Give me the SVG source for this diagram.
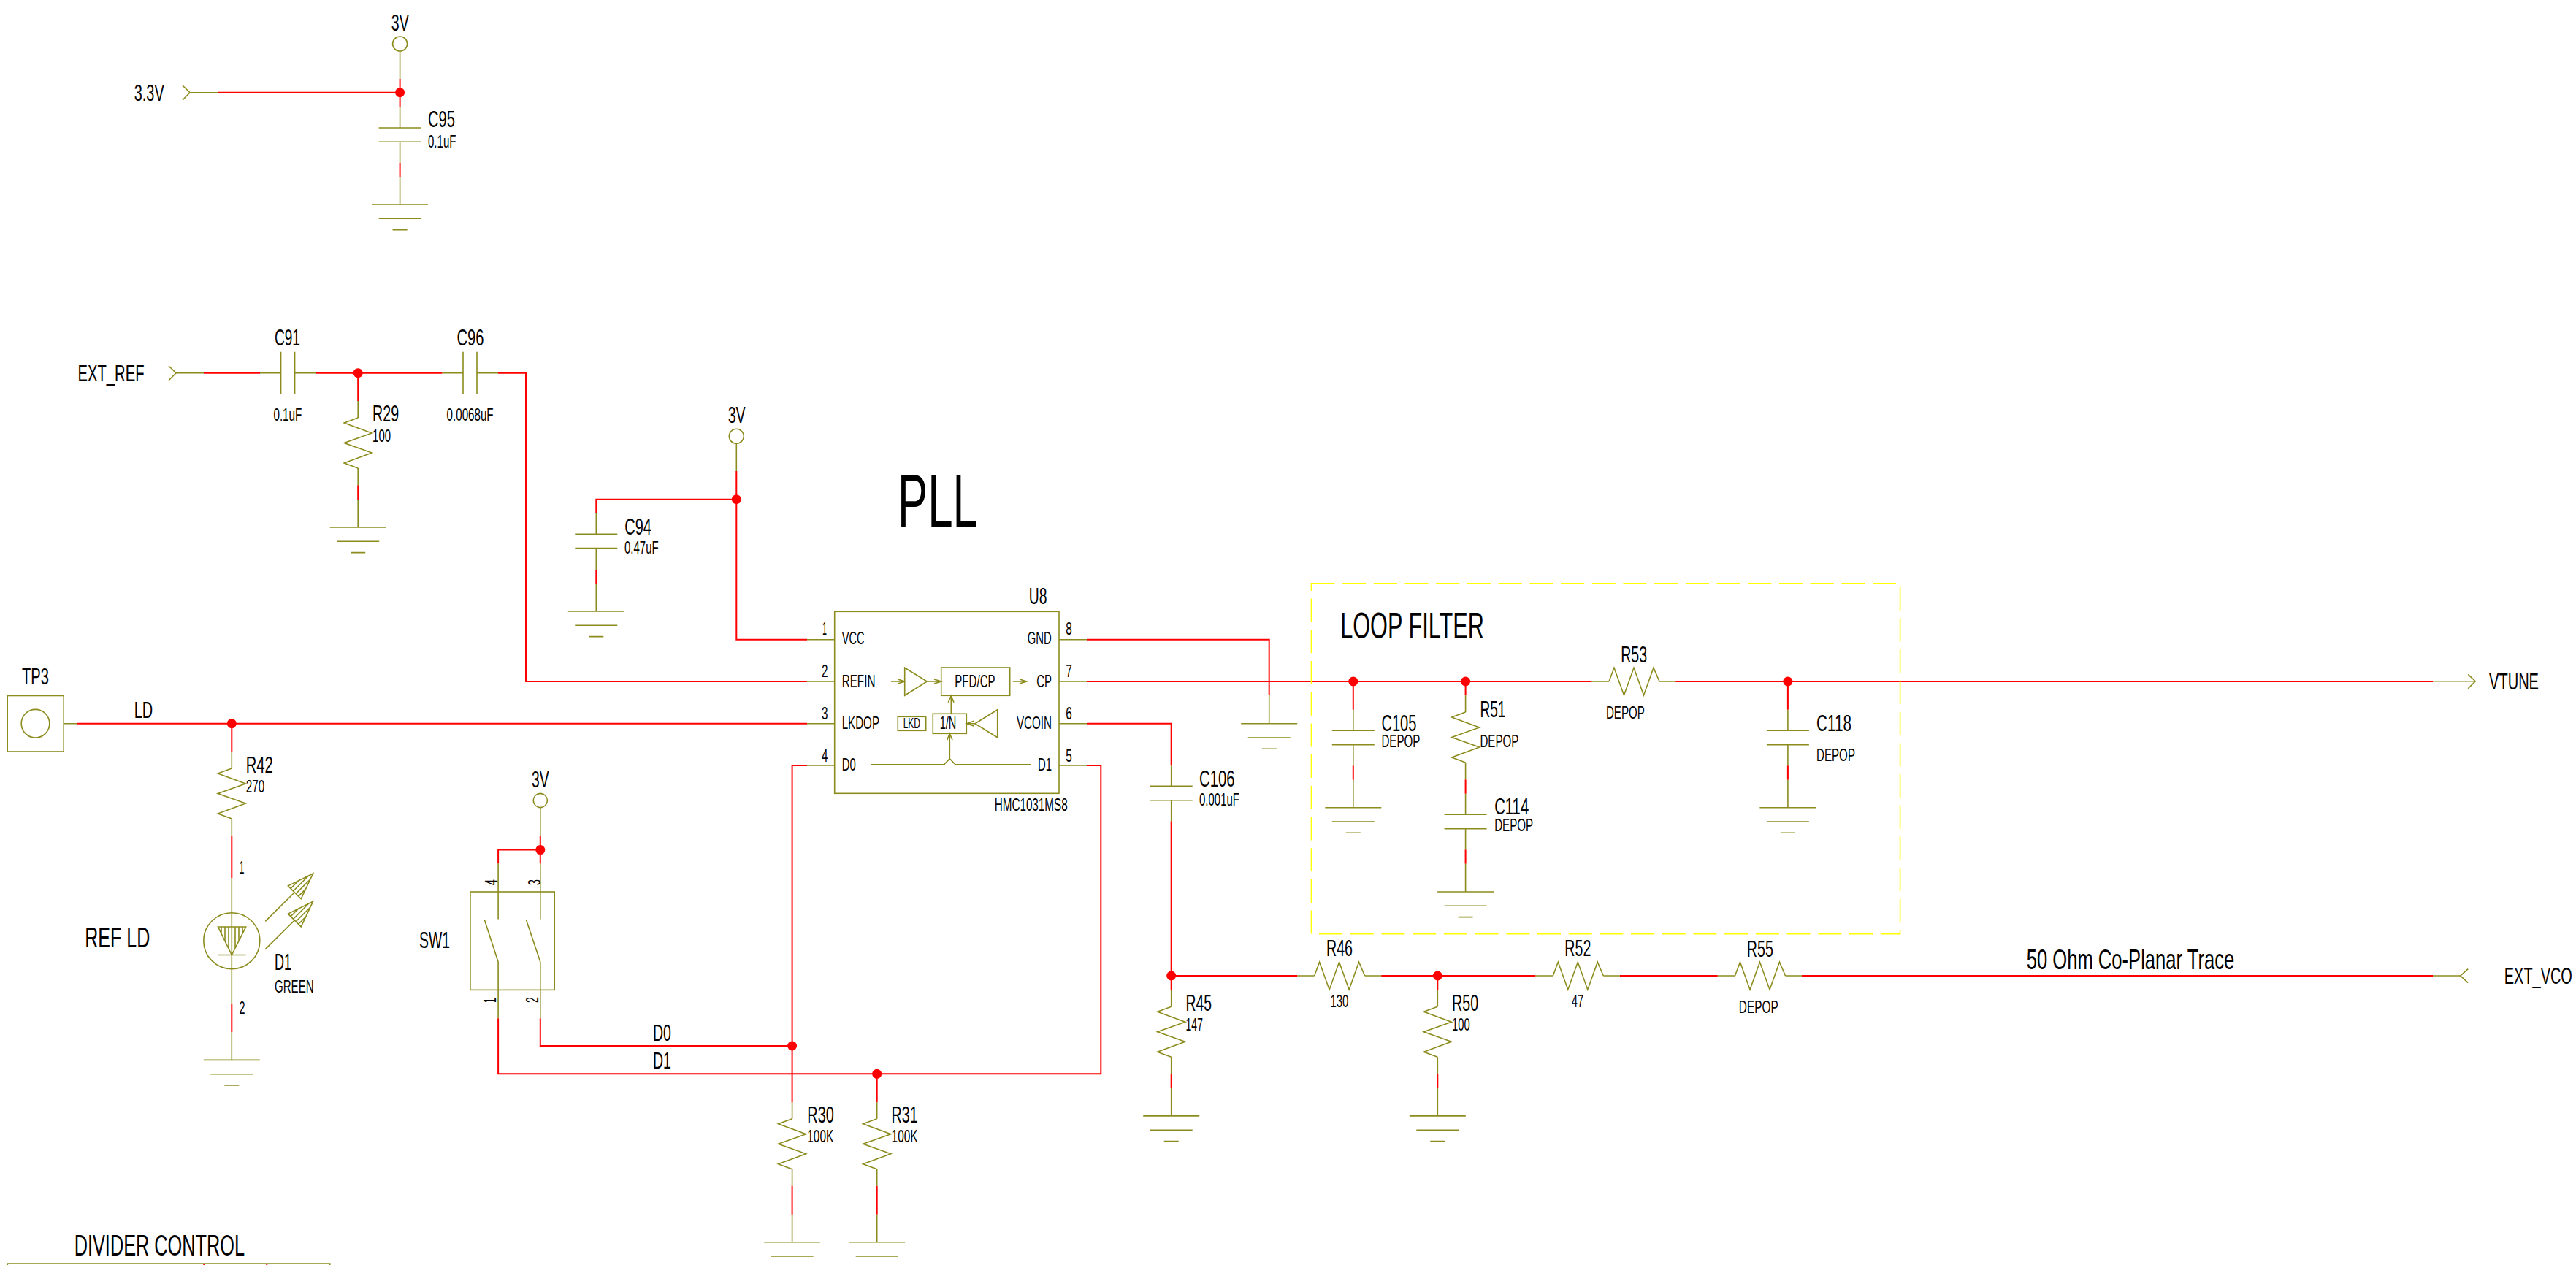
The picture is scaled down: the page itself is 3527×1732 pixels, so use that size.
<svg xmlns="http://www.w3.org/2000/svg" xmlns:xlink="http://www.w3.org/1999/xlink" width="3527" height="1732" viewBox="0 0 3527 1732">
<style>
text{font-family:"Liberation Sans",Arial,sans-serif;fill:#000;text-anchor:start}
.b{font-size:32px}
.s{font-size:24px}
.o,.o path,.o line,.o rect,.o circle,.ol{fill:none;stroke:#8c8c1e;stroke-width:1.6}
.r{fill:none;stroke:#f00;stroke-width:2}
.j{fill:#f00;stroke:none}
.y{fill:none;stroke:#ff0;stroke-width:1.6;stroke-dasharray:32 10.7}
</style>
<defs>
<path id="rv" class="ol" d="M0 0L-19 7L19 21L-19 34.5L19 48L-19 62L0 69"/>
<path id="rh" class="ol" d="M0 0L7 -18.7L20.5 19L34 -18.7L47.5 19L61 -18.7L69 0"/>
<path id="gnd" class="ol" d="M-38.5 0H38.5M-29 19.3H29M-10 34.6H10"/>
<path id="cv" class="ol" d="M-29 0H29M-29 19.3H29"/>
<path id="ch" class="ol" d="M0 -29V29M19 -29V29"/>
<g id="ledarrow" class="o"><path d="M363.3 1261.4L403.3 1221.8M428.6 1196L394.4 1212.9L412.2 1230.7ZM398 1216.5L408.6 1205.9M401.5 1220L422.5 1199M405.1 1223.6L424.9 1203.8M408.6 1227.1L418.6 1217.1"/></g>
</defs>

<g id="connectors">
<path class="r" d="M298 126.7H547.6M547.6 108V146M547.6 223V242
M279 510.7H356M432.6 510.7H605.5M682 510.7H720V933H1105M490.2 510.7V549M490.2 664.3V684
M1105 875.7H1008.3V645M1008.3 683.7H816.3V702.7M816.3 780V799
M106 990.7H1105M317.3 990.7V1029M317.3 1144V1202M317.3 1374.3V1413
M739.8 1144V1182.5M739.8 1163.6H682.1V1182.5
M739.8 1394.3V1432H1084.6M1105 1048H1084.6V1509.3M682.1 1394.3V1470.3H1507.3V1048H1488M1200.7 1470.3V1509.3
M1084.6 1623.7V1662.7M1200.7 1623.7V1662.7
M1488 875.7H1737.7V951.7M1488 933H2179.6M2294.2 933H3331.2
M1852.8 933V971.7M1852.8 1048.3V1067.7M2006.6 933V952.3M2006.6 1067.3V1086.7M2006.6 1163.3V1182.7M2447.9 933V971.7M2447.9 1048.3V1067.7
M1488 990.7H1603.7V1048.6M1603.7 1124.3V1355.7M1603.7 1470.7V1489.6M1603.7 1336H1776.3M1891.2 1336H2102.5M1968.3 1336V1355.7M1968.3 1470.7V1489.6M2217.9 1336H2351.8M2467 1336H3331.2"/>
<path class="ol" d="M260 126.7H298M547.6 70V108M547.6 146V175M547.6 194.3V223M547.6 242V280
M241 510.7H279M356 510.7H384.6M403.6 510.7H432.6M605.5 510.7H634M653 510.7H682M490.2 549V572M490.2 641V664.3M490.2 684V722
M1008.3 607V645M816.3 702.7V731.3M816.3 750.7V780M816.3 799V837
M87 990.7H106M317.3 1029V1052M317.3 1121V1144M317.3 1202V1374.3M317.3 1413V1451.4
M739.8 1105.5V1144M739.8 1182.5V1258.6M682.1 1182.5V1258.6M682.1 1317V1394.3M739.8 1317V1394.3
M1084.6 1509.3V1531.7M1084.6 1600.7V1623.7M1084.6 1662.7V1700.7M1200.7 1509.3V1531.7M1200.7 1600.7V1623.7M1200.7 1662.7V1700.7
M1737.7 951.7V990.7M2179.6 933H2203M2272 933H2294.2M3331.2 932.7H3389M1852.8 971.7V1000.3M1852.8 1019.6V1048.3M1852.8 1067.7V1105.7
M2006.6 952.3V975M2006.6 1044V1067.3M2006.6 1086.7V1115.3M2006.6 1134.6V1163.3M2006.6 1182.7V1221
M2447.9 971.7V1000.3M2447.9 1019.6V1048.3M2447.9 1067.7V1105.7
M1603.7 1048.6V1076.4M1603.7 1095.7V1124.3M1603.7 1355.7V1378.2M1603.7 1447.2V1470.7M1603.7 1489.6V1527.9
M1968.3 1355.7V1378.2M1968.3 1447.2V1470.7M1968.3 1489.6V1527.9
M1776.3 1336H1799.6M1868.6 1336H1891.2M2102.5 1336H2126.3M2195.3 1336H2217.9M2351.8 1336H2375.5M2444.5 1336H2467M3331.2 1336H3368.8"/>
<circle class="j" cx="547.6" cy="126.7" r="6.5"/>
<circle class="j" cx="490.2" cy="510.7" r="6.5"/>
<circle class="j" cx="1008.3" cy="683.7" r="6.5"/>
<circle class="j" cx="317.3" cy="990.7" r="6.5"/>
<circle class="j" cx="739.8" cy="1163.6" r="6.5"/>
<circle class="j" cx="1084.6" cy="1432" r="6.5"/>
<circle class="j" cx="1200.7" cy="1470.3" r="6.5"/>
<circle class="j" cx="1852.8" cy="933" r="6.5"/>
<circle class="j" cx="2006.6" cy="933" r="6.5"/>
<circle class="j" cx="2447.9" cy="933" r="6.5"/>
<circle class="j" cx="1603.7" cy="1336" r="6.5"/>
<circle class="j" cx="1968.3" cy="1336" r="6.5"/>
</g>

<g id="loop-filter">
<rect class="y" x="1795.5" y="798.7" width="806.1" height="480"/>
<text x="1835.2" y="874" font-size="50" textLength="196.6" lengthAdjust="spacingAndGlyphs">LOOP FILTER</text>
</g>
<text id="title-pll" x="1229" y="722" font-size="103" textLength="110" lengthAdjust="spacingAndGlyphs">PLL</text>

<g id="port-3v3"><path class="ol" d="M250 117L260 126.7L250 137"/><text class="b" x="183.7" y="138" textLength="41" lengthAdjust="spacingAndGlyphs">3.3V</text></g>
<g id="pwr-3v-a"><circle class="ol" cx="547.6" cy="60" r="10"/><text class="b" x="535.8" y="42.3" textLength="24" lengthAdjust="spacingAndGlyphs">3V</text></g>
<g id="C95"><use href="#cv" x="547.6" y="175"/><text class="b" x="586" y="174" textLength="37" lengthAdjust="spacingAndGlyphs">C95</text><text class="s" x="586" y="201.7" textLength="38.5" lengthAdjust="spacingAndGlyphs">0.1uF</text></g>
<g id="gnd-1"><use href="#gnd" x="547.6" y="280"/></g>

<g id="port-ext-ref"><path class="ol" d="M231 501L241 510.7L231 520.7"/><text class="b" x="106.5" y="521.7" textLength="91" lengthAdjust="spacingAndGlyphs">EXT_REF</text></g>
<g id="C91"><use href="#ch" x="384.6" y="510.7"/><text class="b" x="375.9" y="472.7" textLength="35" lengthAdjust="spacingAndGlyphs">C91</text><text class="s" x="374.4" y="576" textLength="39" lengthAdjust="spacingAndGlyphs">0.1uF</text></g>
<g id="C96"><use href="#ch" x="634" y="510.7"/><text class="b" x="625.4" y="472.7" textLength="37" lengthAdjust="spacingAndGlyphs">C96</text><text class="s" x="611.6" y="576" textLength="64" lengthAdjust="spacingAndGlyphs">0.0068uF</text></g>
<g id="R29"><use href="#rv" x="490.2" y="572"/><text class="b" x="510.1" y="577.3" textLength="36" lengthAdjust="spacingAndGlyphs">R29</text><text class="s" x="510.1" y="605" textLength="25" lengthAdjust="spacingAndGlyphs">100</text></g>
<g id="gnd-2"><use href="#gnd" x="490.2" y="722"/></g>

<g id="pwr-3v-b"><circle class="ol" cx="1008.3" cy="597.3" r="10"/><text class="b" x="996.7" y="579.3" textLength="24" lengthAdjust="spacingAndGlyphs">3V</text></g>
<g id="C94"><use href="#cv" x="816.3" y="731.3"/><text class="b" x="855.3" y="731.7" textLength="36.7" lengthAdjust="spacingAndGlyphs">C94</text><text class="s" x="855" y="757.7" textLength="46.7" lengthAdjust="spacingAndGlyphs">0.47uF</text></g>
<g id="gnd-3"><use href="#gnd" x="816.3" y="837"/></g>

<g id="TP3"><rect class="ol" x="10.2" y="952.5" width="77" height="76.5"/><circle class="ol" cx="48.5" cy="990.7" r="19.3"/><text class="b" x="30" y="937" textLength="37" lengthAdjust="spacingAndGlyphs">TP3</text></g>
<text id="net-ld" class="b" x="183.7" y="982.5" textLength="25.5" lengthAdjust="spacingAndGlyphs">LD</text>
<g id="R42"><use href="#rv" x="317.3" y="1052"/><text class="b" x="336.7" y="1057.5" textLength="37" lengthAdjust="spacingAndGlyphs">R42</text><text class="s" x="336.7" y="1085" textLength="25.5" lengthAdjust="spacingAndGlyphs">270</text></g>
<g id="D1">
<circle class="ol" cx="317.3" cy="1288.2" r="38.5"/>
<path class="ol" d="M298.5 1269H336.7L317.3 1307.5ZM298.5 1307.5H336.7M303 1269V1278.7M308 1269V1288.8M313 1269V1298.8M322 1269V1298M327 1269V1288M332 1269V1277.9"/>
<use href="#ledarrow"/><use href="#ledarrow" y="38.2"/>
<text class="s" x="327.6" y="1195.7" textLength="7" lengthAdjust="spacingAndGlyphs">1</text>
<text class="s" x="327.5" y="1387.9" textLength="8" lengthAdjust="spacingAndGlyphs">2</text>
<text class="b" x="376" y="1328" textLength="23" lengthAdjust="spacingAndGlyphs">D1</text>
<text class="s" x="376" y="1359" textLength="53.6" lengthAdjust="spacingAndGlyphs">GREEN</text>
</g>
<text id="label-ref-ld" x="116.3" y="1297" font-size="39" textLength="89" lengthAdjust="spacingAndGlyphs">REF LD</text>
<g id="gnd-4"><use href="#gnd" x="317.3" y="1451.4"/></g>

<g id="pwr-3v-c"><circle class="ol" cx="739.8" cy="1096" r="9.6"/><text class="b" x="728" y="1078" textLength="23.5" lengthAdjust="spacingAndGlyphs">3V</text></g>
<g id="SW1">
<rect class="ol" x="643.9" y="1221" width="115.3" height="134.4"/>
<path class="ol" d="M663.3 1259.3L682.1 1317M720.4 1259.3L739.8 1317"/>
<text class="b" x="574" y="1297.5" textLength="42" lengthAdjust="spacingAndGlyphs">SW1</text>
<text class="s" transform="translate(681 1212) rotate(-90)" textLength="8" lengthAdjust="spacingAndGlyphs">4</text>
<text class="s" transform="translate(740 1212) rotate(-90)" textLength="8" lengthAdjust="spacingAndGlyphs">3</text>
<text class="s" transform="translate(678.6 1373) rotate(-90)" textLength="6.5" lengthAdjust="spacingAndGlyphs">1</text>
<text class="s" transform="translate(737 1373) rotate(-90)" textLength="8" lengthAdjust="spacingAndGlyphs">2</text>
</g>
<text id="net-d0" class="b" x="893.9" y="1425" textLength="25" lengthAdjust="spacingAndGlyphs">D0</text>
<text id="net-d1" class="b" x="893.9" y="1462.7" textLength="25" lengthAdjust="spacingAndGlyphs">D1</text>
<g id="R30"><use href="#rv" x="1084.6" y="1531.7"/><text class="b" x="1105.3" y="1537.3" textLength="36.5" lengthAdjust="spacingAndGlyphs">R30</text><text class="s" x="1105.3" y="1564.3" textLength="36" lengthAdjust="spacingAndGlyphs">100K</text></g>
<g id="R31"><use href="#rv" x="1200.7" y="1531.7"/><text class="b" x="1220.6" y="1537.3" textLength="36" lengthAdjust="spacingAndGlyphs">R31</text><text class="s" x="1220.6" y="1564.3" textLength="36" lengthAdjust="spacingAndGlyphs">100K</text></g>
<g id="gnd-5"><use href="#gnd" x="1084.6" y="1700.7"/></g>
<g id="gnd-6"><use href="#gnd" x="1200.7" y="1700.7"/></g>

<g id="U8">
<rect class="ol" x="1142.7" y="837.3" width="307.3" height="249"/>
<path class="ol" d="M1105 875.7H1142.7M1105 933H1142.7M1105 990.7H1142.7M1105 1048H1142.7M1450 875.7H1488M1450 933H1488M1450 990.7H1488M1450 1048H1488"/>
<path class="ol" d="M1238.7 914.3L1269.3 933L1238.7 952.3ZM1220 933H1238.7M1229.3 930L1238.7 933L1229.3 936M1269.3 933H1288.7M1279 930L1288.7 933L1279 936"/>
<rect class="ol" x="1288.7" y="914" width="94" height="38.3"/>
<path class="ol" d="M1386.7 933H1405.7M1396 930L1405.7 933L1396 936"/>
<rect class="ol" x="1277.3" y="977.3" width="46" height="27"/>
<rect class="ol" x="1229.3" y="981.3" width="38.4" height="19"/>
<path class="ol" d="M1302.3 977.3V952.3M1298.3 961.7L1302.3 952.3L1306 961.7M1365.7 971.7L1335 990.7L1365.7 1009.7ZM1335 990.7H1323.3M1333.3 987.3L1323.3 990.7L1333.3 994M1300.3 1038.7V1004.3M1296.7 1013.3L1300.3 1004.3L1304 1013.3M1193 1046.7H1292.7L1300.3 1038.7L1308 1046.7H1411.7"/>
<text class="b" x="1408.7" y="827.3" textLength="24.7" lengthAdjust="spacingAndGlyphs">U8</text>
<text class="s" x="1361.7" y="1110" textLength="100" lengthAdjust="spacingAndGlyphs">HMC1031MS8</text>
<text class="s" x="1126" y="869.3" textLength="6" lengthAdjust="spacingAndGlyphs">1</text>
<text class="s" x="1125" y="927.3" textLength="8.5" lengthAdjust="spacingAndGlyphs">2</text>
<text class="s" x="1125" y="984.7" textLength="8.5" lengthAdjust="spacingAndGlyphs">3</text>
<text class="s" x="1125" y="1042.7" textLength="8.5" lengthAdjust="spacingAndGlyphs">4</text>
<text class="s" x="1459.3" y="869.3" textLength="8.5" lengthAdjust="spacingAndGlyphs">8</text>
<text class="s" x="1459.3" y="927.3" textLength="8.5" lengthAdjust="spacingAndGlyphs">7</text>
<text class="s" x="1459.3" y="984.7" textLength="8.5" lengthAdjust="spacingAndGlyphs">6</text>
<text class="s" x="1459.3" y="1042.7" textLength="8.5" lengthAdjust="spacingAndGlyphs">5</text>
<text class="s" x="1152.7" y="882.3" textLength="31" lengthAdjust="spacingAndGlyphs">VCC</text>
<text class="s" x="1152.7" y="940.7" textLength="45.7" lengthAdjust="spacingAndGlyphs">REFIN</text>
<text class="s" x="1152.7" y="998" textLength="51.3" lengthAdjust="spacingAndGlyphs">LKDOP</text>
<text class="s" x="1152.7" y="1055.3" textLength="19" lengthAdjust="spacingAndGlyphs">D0</text>
<text class="s" x="1406.7" y="882.3" textLength="33" lengthAdjust="spacingAndGlyphs">GND</text>
<text class="s" x="1419.3" y="940.7" textLength="20.7" lengthAdjust="spacingAndGlyphs">CP</text>
<text class="s" x="1392" y="998" textLength="48" lengthAdjust="spacingAndGlyphs">VCOIN</text>
<text class="s" x="1421" y="1055.3" textLength="19" lengthAdjust="spacingAndGlyphs">D1</text>
<text class="s" x="1307.3" y="940.7" textLength="55.3" lengthAdjust="spacingAndGlyphs">PFD/CP</text>
<text class="s" x="1286.7" y="998" textLength="22.6" lengthAdjust="spacingAndGlyphs">1/N</text>
<text x="1236.7" y="997.3" font-size="21" textLength="23.3" lengthAdjust="spacingAndGlyphs">LKD</text>
</g>

<g id="gnd-7"><use href="#gnd" x="1737.7" y="990.7"/></g>
<g id="C105"><use href="#cv" x="1852.8" y="1000.3"/><text class="b" x="1891.4" y="1000.7" textLength="48" lengthAdjust="spacingAndGlyphs">C105</text><text class="s" x="1891.4" y="1023.3" textLength="53" lengthAdjust="spacingAndGlyphs">DEPOP</text></g>
<g id="gnd-8"><use href="#gnd" x="1852.8" y="1105.7"/></g>
<g id="R51"><use href="#rv" x="2006.6" y="975"/><text class="b" x="2026.4" y="981.7" textLength="35" lengthAdjust="spacingAndGlyphs">R51</text><text class="s" x="2026.4" y="1023.3" textLength="53" lengthAdjust="spacingAndGlyphs">DEPOP</text></g>
<g id="C114"><use href="#cv" x="2006.6" y="1115.3"/><text class="b" x="2046.2" y="1115" textLength="47" lengthAdjust="spacingAndGlyphs">C114</text><text class="s" x="2046.2" y="1138.3" textLength="53" lengthAdjust="spacingAndGlyphs">DEPOP</text></g>
<g id="gnd-9"><use href="#gnd" x="2006.6" y="1221"/></g>
<g id="R53"><use href="#rh" x="2203" y="933"/><text class="b" x="2219.2" y="906.7" textLength="36" lengthAdjust="spacingAndGlyphs">R53</text><text class="s" x="2198.9" y="984.3" textLength="53" lengthAdjust="spacingAndGlyphs">DEPOP</text></g>
<g id="C118"><use href="#cv" x="2447.9" y="1000.3"/><text class="b" x="2487" y="1000.7" textLength="48" lengthAdjust="spacingAndGlyphs">C118</text><text class="s" x="2487" y="1042.3" textLength="53" lengthAdjust="spacingAndGlyphs">DEPOP</text></g>
<g id="gnd-10"><use href="#gnd" x="2447.9" y="1105.7"/></g>
<g id="port-vtune"><path class="ol" d="M3379.2 923.3L3389.2 932.7L3379.2 942.7"/><text class="b" x="3408" y="944.3" textLength="68" lengthAdjust="spacingAndGlyphs">VTUNE</text></g>

<g id="C106"><use href="#cv" x="1603.7" y="1076.4"/><text class="b" x="1642" y="1077" textLength="48.5" lengthAdjust="spacingAndGlyphs">C106</text><text class="s" x="1642" y="1103.2" textLength="55" lengthAdjust="spacingAndGlyphs">0.001uF</text></g>
<g id="R45"><use href="#rv" x="1603.7" y="1378.2"/><text class="b" x="1623.6" y="1384.3" textLength="35.4" lengthAdjust="spacingAndGlyphs">R45</text><text class="s" x="1623.6" y="1411" textLength="23.3" lengthAdjust="spacingAndGlyphs">147</text></g>
<g id="gnd-11"><use href="#gnd" x="1603.7" y="1527.9"/></g>
<g id="R46"><use href="#rh" x="1799.6" y="1336"/><text class="b" x="1816" y="1309.3" textLength="36" lengthAdjust="spacingAndGlyphs">R46</text><text class="s" x="1821.4" y="1379" textLength="25" lengthAdjust="spacingAndGlyphs">130</text></g>
<g id="R50"><use href="#rv" x="1968.3" y="1378.2"/><text class="b" x="1988.1" y="1384.3" textLength="36" lengthAdjust="spacingAndGlyphs">R50</text><text class="s" x="1988.1" y="1411" textLength="24.7" lengthAdjust="spacingAndGlyphs">100</text></g>
<g id="gnd-12"><use href="#gnd" x="1968.3" y="1527.9"/></g>
<g id="R52"><use href="#rh" x="2126.3" y="1336"/><text class="b" x="2142.3" y="1309.3" textLength="36" lengthAdjust="spacingAndGlyphs">R52</text><text class="s" x="2152" y="1379" textLength="16" lengthAdjust="spacingAndGlyphs">47</text></g>
<g id="R55"><use href="#rh" x="2375.5" y="1336"/><text class="b" x="2391.8" y="1310" textLength="36" lengthAdjust="spacingAndGlyphs">R55</text><text class="s" x="2380.8" y="1387.3" textLength="54" lengthAdjust="spacingAndGlyphs">DEPOP</text></g>
<text id="label-trace" x="2774.7" y="1326.7" font-size="39" textLength="284.5" lengthAdjust="spacingAndGlyphs">50 Ohm Co-Planar Trace</text>
<g id="port-ext-vco"><path class="ol" d="M3379.2 1326.7L3368.8 1336L3379.2 1345.7"/><text class="b" x="3521.8" y="1346.7" style="text-anchor:end" textLength="93" lengthAdjust="spacingAndGlyphs">EXT_VCO</text></g>

<g id="divider-control">
<text x="101.7" y="1719" font-size="41" textLength="233.3" lengthAdjust="spacingAndGlyphs">DIVIDER CONTROL</text>
<path class="ol" d="M10.3 1732V1730H451.7V1732"/>
<path class="r" d="M279.3 1730.5V1732M365.3 1730.5V1732"/>
</g>
</svg>
